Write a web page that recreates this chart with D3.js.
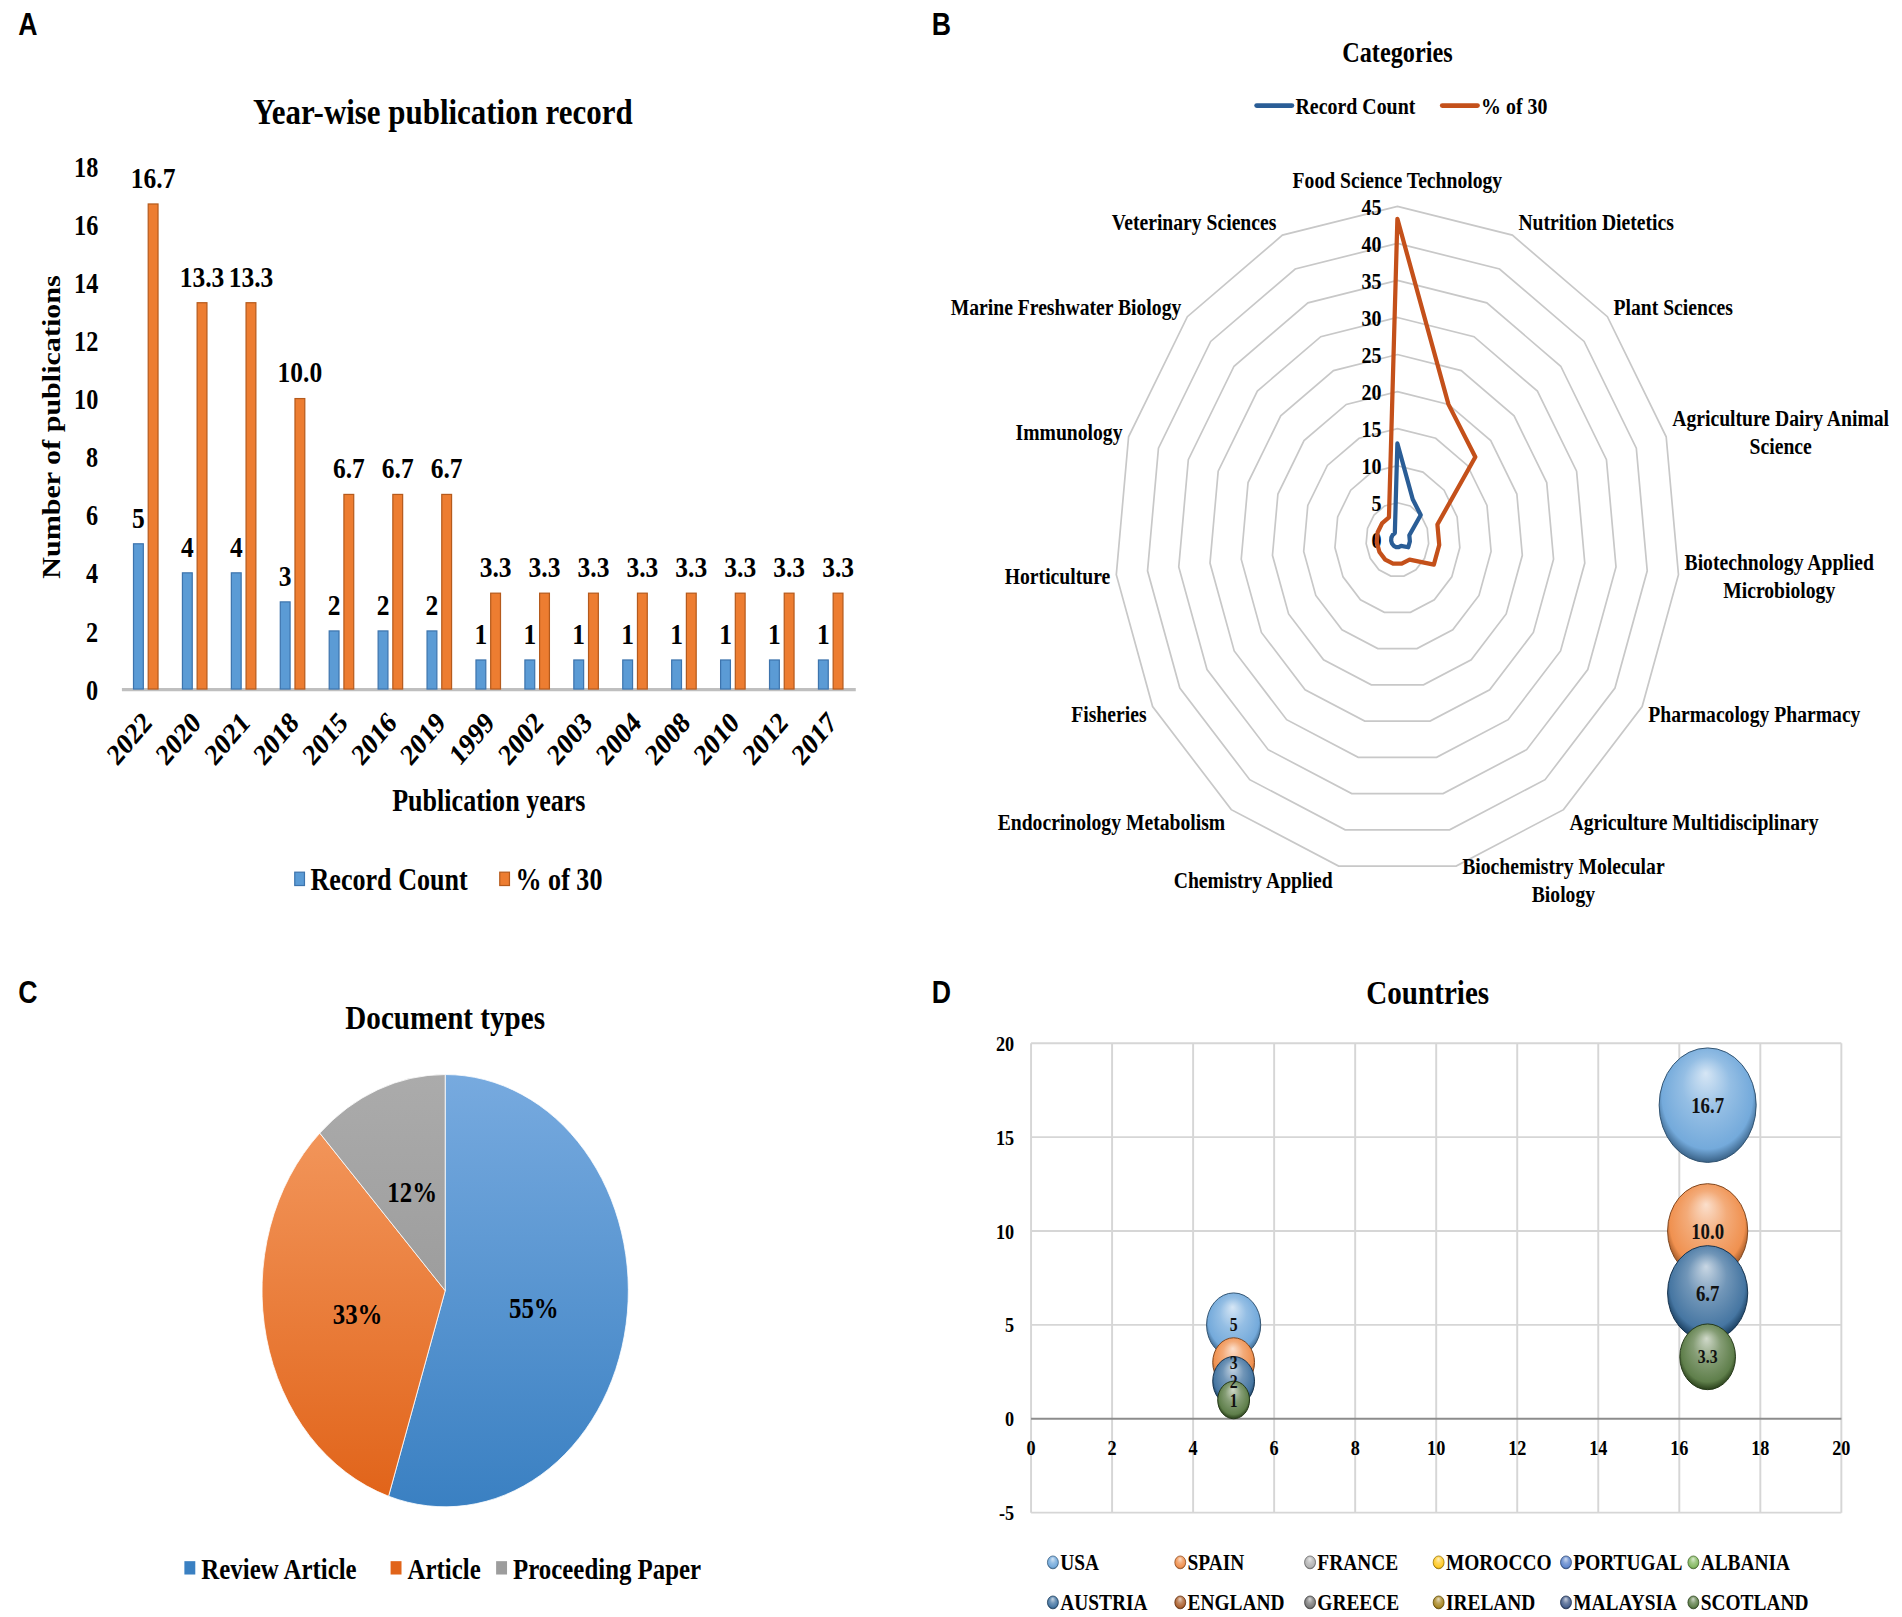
<!DOCTYPE html>
<meta charset="utf-8">
<style>
body { margin: 0; background: #fff; }
</style>
<body>
<script src="https://cdn.jsdelivr.net/npm/d3@7"></script>
<script>

// ---- data ----
var years = ["2022","2020","2021","2018","2015","2016","2019","1999","2002","2003","2004","2008","2010","2012","2017"];
var recordCount = [5,4,4,3,2,2,2,1,1,1,1,1,1,1,1];
var pctOf30 = [16.7,13.3,13.3,10.0,6.7,6.7,6.7,3.3,3.3,3.3,3.3,3.3,3.3,3.3,3.3];
var yearTicks = [0,2,4,6,8,10,12,14,16,18];

var categories = ["Food Science Technology","Nutrition Dietetics","Plant Sciences",
  "Agriculture Dairy Animal Science","Biotechnology Applied Microbiology","Pharmacology Pharmacy",
  "Agriculture Multidisciplinary","Biochemistry Molecular Biology","Chemistry Applied",
  "Endocrinology Metabolism","Fisheries","Horticulture","Immunology",
  "Marine Freshwater Biology","Veterinary Sciences"];
var catCount = [13,6,5,2,2,2,1,1,1,1,1,1,1,1,1];
var catPct = [43.3,20.0,16.7,6.7,6.7,6.7,3.3,3.3,3.3,3.3,3.3,3.3,3.3,3.3,3.3];
var radarTicks = [0,5,10,15,20,25,30,35,40,45];

var docTypes = ["Review Article","Article","Proceeding Paper"];
var docShare = [55,33,12];

var countries = ["USA","SPAIN","FRANCE","MOROCCO","PORTUGAL","ALBANIA",
  "AUSTRIA","ENGLAND","GREECE","IRELAND","MALAYSIA","SCOTLAND"];
var countryColors = ["#5b9bd5","#ed7d31","#a5a5a5","#ffc000","#4472c4","#70ad47",
  "#255e91","#9e480e","#636363","#997300","#264478","#43682b"];
var bubbleSeries = ["USA","SPAIN","AUSTRIA","SCOTLAND","USA","SPAIN","AUSTRIA","SCOTLAND"];
var bubbleX = [5,5,5,5,16.7,16.7,16.7,16.7];
var bubbleY = [5,3,2,1,16.7,10.0,6.7,3.3];
var bubbleSize = [5.2,3.1,3.1,1.8,16.7,11.4,11.4,5.5];
var bubbleLabels = ["5","3","2","1","16.7","10.0","6.7","3.3"];
var xTicksD = [0,2,4,6,8,10,12,14,16,18,20];
var yTicksD = [-5,0,5,10,15,20];

// ---- page ----
var K = 1.18;   // the figure is stretched vertically
var SERIF = "'Liberation Serif','Times New Roman',serif";
var SANS = "'Liberation Sans',Arial,sans-serif";

var svg = d3.select("body").append("svg")
    .attr("width", 1902)
    .attr("height", 1617)
    .attr("viewBox", "0 0 1568 1333");

var defs = svg.append("defs");

function txt(g, x, y, s, size, o) {
  o = o || {};
  return g.append("text")
      .attr("transform", "translate(" + x + "," + y + ") scale(1," + K + ")" + (o.rot ? " rotate(" + o.rot + ")" : ""))
      .attr("text-anchor", o.anchor || "middle")
      .attr("dy", o.dy || "0.35em")
      .attr("font-family", o.family || SERIF)
      .attr("font-weight", o.weight || "bold")
      .attr("font-size", size)
      .attr("fill", o.fill || "#000")
      .text(s);
}

// panel letters
txt(svg, 23, 20, "A", 22, {family: SANS});
txt(svg, 776, 20, "B", 22, {family: SANS});
txt(svg, 23, 818, "C", 22, {family: SANS});
txt(svg, 776, 818, "D", 22, {family: SANS});

// ================= A : bars =================
var gA = svg.append("g");
txt(gA, 365, 92, "Year-wise publication record", 25.5);

var x = d3.scaleBand().domain(years).range([100, 705]);
var xs = d3.scaleBand().domain(["count","pct"]).range([0, x.bandwidth()])
    .paddingInner(1/3).paddingOuter(0.83);
var y = d3.scaleLinear().domain([0, 18]).range([568, 137]);

var yAx = gA.append("g")
    .attr("transform", "translate(81,0)")
    .call(d3.axisLeft(y).tickValues(yearTicks).tickSize(0).tickPadding(0));
yAx.select(".domain").remove();
yAx.selectAll("text")
    .attr("x", null).attr("dy", "0.35em")
    .attr("transform", "scale(1," + K + ")")
    .attr("font-family", SERIF).attr("font-weight", "bold").attr("font-size", 20).attr("fill", "#000");

var xAx = gA.append("g")
    .attr("transform", "translate(0,568)")
    .call(d3.axisBottom(x).tickSize(0));
xAx.select(".domain").attr("stroke", "#bfbfbf").attr("stroke-width", 2.5);
xAx.selectAll("text")
    .attr("y", null).attr("dy", "0.35em")
    .attr("transform", "translate(1,23) scale(1," + K + ") rotate(-45)")
    .attr("text-anchor", "end")
    .attr("font-family", SERIF).attr("font-weight", "bold").attr("font-size", 21).attr("fill", "#000");

var rows = years.map(function(yr, i) { return {year: yr, count: recordCount[i], pct: pctOf30[i]}; });

gA.selectAll(".bc").data(rows).enter().append("rect")
    .attr("x", function(d) { return x(d.year) + xs("count"); })
    .attr("y", function(d) { return y(d.count); })
    .attr("width", xs.bandwidth())
    .attr("height", function(d) { return y(0) - y(d.count); })
    .attr("fill", "#5b9bd5").attr("stroke", "#3d74ad").attr("stroke-width", 1);
gA.selectAll(".bp").data(rows).enter().append("rect")
    .attr("x", function(d) { return x(d.year) + xs("pct"); })
    .attr("y", function(d) { return y(d.pct); })
    .attr("width", xs.bandwidth())
    .attr("height", function(d) { return y(0) - y(d.pct); })
    .attr("fill", "#ed7d31").attr("stroke", "#b55a1c").attr("stroke-width", 1);

rows.forEach(function(d) {
  txt(gA, x(d.year) + xs("count") + xs.bandwidth() / 2, y(d.count) - 22, d3.format("d")(d.count), 21);
  txt(gA, x(d.year) + xs("pct") + xs.bandwidth() / 2, y(d.pct) - 22, d3.format(".1f")(d.pct), 21);
});

txt(gA, 403, 660, "Publication years", 21.5);
txt(gA, 42, 352, "Number of publications", 21, {rot: -90});

gA.append("rect").attr("x", 243).attr("y", 719).attr("width", 8).attr("height", 11).attr("fill", "#5b9bd5").attr("stroke", "#3d74ad");
txt(gA, 256, 725, "Record Count", 21.5, {anchor: "start"});
gA.append("rect").attr("x", 412).attr("y", 719).attr("width", 8).attr("height", 11).attr("fill", "#ed7d31").attr("stroke", "#b55a1c");
txt(gA, 425, 725, "% of 30", 21.5, {anchor: "start"});

// ================= B : radar =================
var gB = svg.append("g");
txt(gB, 1152, 43, "Categories", 20);
gB.append("line").attr("x1", 1036).attr("x2", 1065).attr("y1", 87).attr("y2", 87)
    .attr("stroke", "#2a5d96").attr("stroke-width", 4).attr("stroke-linecap", "round");
txt(gB, 1068, 87, "Record Count", 16.4, {anchor: "start"});
gB.append("line").attr("x1", 1189).attr("x2", 1218).attr("y1", 87).attr("y2", 87)
    .attr("stroke", "#c4501a").attr("stroke-width", 4).attr("stroke-linecap", "round");
txt(gB, 1221, 87, "% of 30", 16.4, {anchor: "start"});

var cx = 1152, cy = 445;
var r = d3.scaleLinear().domain([0, 45]).range([0, 233]);
var ang = d3.scaleLinear().domain([0, categories.length]).range([0, 2 * Math.PI]);
function pt(i, v) {
  return [cx + r(v) * Math.sin(ang(i)), cy - r(v) * Math.cos(ang(i)) * K];
}
var radarLine = d3.line().curve(d3.curveLinearClosed);

radarTicks.slice(1).forEach(function(v) {
  gB.append("path")
      .attr("d", radarLine(categories.map(function(c, i) { return pt(i, v); })))
      .attr("fill", "none").attr("stroke", "#c8c8c8").attr("stroke-width", 1.4);
});
radarTicks.forEach(function(v) {
  txt(gB, cx - 13, cy - r(v) * K, v, 16.5, {anchor: "end"});
});

gB.append("path")
    .attr("d", radarLine(catPct.map(function(v, i) { return pt(i, v); })))
    .attr("fill", "none").attr("stroke", "#c4501a").attr("stroke-width", 3.5).attr("stroke-linejoin", "round");
gB.append("path")
    .attr("d", radarLine(catCount.map(function(v, i) { return pt(i, v); })))
    .attr("fill", "none").attr("stroke", "#2a5d96").attr("stroke-width", 3.5).attr("stroke-linejoin", "round");

categories.forEach(function(name, i) {
  var p = pt(i, 45), a = ang(i);
  var words = name.split(" ");
  var lines = name.length >= 30 ? [words.slice(0, -1).join(" "), words[words.length - 1]] : [name];
  if (i === 0) { txt(gB, p[0], p[1] - 22, name, 16.2); return; }
  var yc = p[1] - 12 * Math.cos(a);
  var right = Math.sin(a) > 0;
  // measure the widest line, then centre each line in that block
  var probe = txt(gB, 0, 0, lines[0], 16.2);
  var w = probe.node().getComputedTextLength();
  probe.remove();
  var mid = right ? p[0] + 5 + w / 2 : p[0] - 5 - w / 2;
  lines.forEach(function(l, j) {
    txt(gB, mid, yc + (j - (lines.length - 1) / 2) * 23, l, 16.2);
  });
});

// ================= C : pie =================
var gC = svg.append("g");
txt(gC, 367, 838, "Document types", 24);

var pieCols = [["#77aadf","#3a80c2"],["#f2955a","#e1641a"],["#ababab","#9d9d9d"]];
pieCols.forEach(function(c, i) {
  var lg = defs.append("linearGradient").attr("id", "pg" + i).attr("x1", 0).attr("x2", 0).attr("y1", 0).attr("y2", 1);
  lg.append("stop").attr("offset", "0%").attr("stop-color", c[0]);
  lg.append("stop").attr("offset", "100%").attr("stop-color", c[1]);
});

var pie = d3.pie().sort(null).value(function(d) { return d; });
var R = 151;
var arc = d3.arc().innerRadius(0).outerRadius(R);
var labelArc = d3.arc().innerRadius(R * 0.49).outerRadius(R * 0.49);
var pg = gC.append("g").attr("transform", "translate(367,1064) scale(1," + K + ")");
var slices = pie(docShare);
pg.selectAll("path").data(slices).enter().append("path")
    .attr("d", arc)
    .attr("fill", function(d, i) { return "url(#pg" + i + ")"; })
    .attr("stroke", "#fff").attr("stroke-width", 0.6);
pg.selectAll("text").data(slices).enter().append("text")
    .attr("transform", function(d) { return "translate(" + labelArc.centroid(d) + ")"; })
    .attr("text-anchor", "middle").attr("dy", "0.35em")
    .attr("font-family", SERIF).attr("font-weight", "bold").attr("font-size", 20.5)
    .text(function(d) { return d.data + "%"; });

var legC = [152, 322, 409];
docTypes.forEach(function(t, i) {
  gC.append("rect").attr("x", legC[i]).attr("y", 1287).attr("width", 9).attr("height", 11)
      .attr("fill", pieCols[i][1]);
  txt(gC, legC[i] + 14, 1293, t, 20.5, {anchor: "start"});
});

// ================= D : bubbles =================
var gD = svg.append("g");
txt(gD, 1177, 818, "Countries", 24);

var xd = d3.scaleLinear().domain([0, 20]).range([850, 1518]);
var yd = d3.scaleLinear().domain([-5, 20]).range([1247, 860]);
var rs = d3.scaleSqrt().domain([0, 16.7]).range([0, 40]);

gD.selectAll(".vg").data(xTicksD).enter().append("line")
    .attr("x1", xd).attr("x2", xd).attr("y1", yd(20)).attr("y2", yd(-5))
    .attr("stroke", "#d6d6d6").attr("stroke-width", 1.6);
gD.selectAll(".hg").data(yTicksD).enter().append("line")
    .attr("x1", xd(0)).attr("x2", xd(20)).attr("y1", yd).attr("y2", yd)
    .attr("stroke", function(d) { return d === 0 ? "#8c8c8c" : "#d6d6d6"; })
    .attr("stroke-width", 1.6);
yTicksD.forEach(function(v) { txt(gD, 836, yd(v), v, 15, {anchor: "end"}); });
xTicksD.forEach(function(v) { txt(gD, xd(v), 1193, v, 15); });

countries.forEach(function(c, i) {
  var base = countryColors[i];
  var g = defs.append("radialGradient").attr("id", "bg" + i)
      .attr("cx", "50%").attr("cy", "45%").attr("r", "55%").attr("fx", "48%").attr("fy", "22%");
  g.append("stop").attr("offset", "0%").attr("stop-color", d3.interpolateRgb(base, "#fff")(0.75));
  g.append("stop").attr("offset", "45%").attr("stop-color", d3.interpolateRgb(base, "#fff")(0.35));
  g.append("stop").attr("offset", "85%").attr("stop-color", d3.interpolateRgb(base, "#fff")(0.15));
  g.append("stop").attr("offset", "100%").attr("stop-color", d3.color(base).darker(1.3));
});

var bubbles = bubbleX.map(function(v, i) {
  return {x: v, y: bubbleY[i], s: bubbleSize[i], c: countries.indexOf(bubbleSeries[i]), label: bubbleLabels[i]};
});
gD.selectAll(".bub").data(bubbles).enter().append("ellipse")
    .attr("cx", function(b) { return xd(b.x); })
    .attr("cy", function(b) { return yd(b.y); })
    .attr("rx", function(b) { return rs(b.s); })
    .attr("ry", function(b) { return rs(b.s) * K; })
    .attr("fill", function(b) { return "url(#bg" + b.c + ")"; })
    .attr("stroke", function(b) { return d3.color(countryColors[b.c]).darker(1.8); })
    .attr("stroke-width", 0.8);
// labels on top of all bubbles; the small stacked ones get a smaller size
bubbles.forEach(function(b) {
  txt(gD, xd(b.x), yd(b.y), b.label, rs(b.s) < 30 ? 13 : 15.5, {fill: "#111"});
});

var legX = [868, 973, 1080, 1186, 1291, 1396];
countries.forEach(function(c, i) {
  var lx = legX[i % 6], ly = i < 6 ? 1288 : 1321;
  gD.append("ellipse").attr("cx", lx).attr("cy", ly).attr("rx", 4.5).attr("ry", 4.5 * K)
      .attr("fill", "url(#bg" + i + ")").attr("stroke", d3.color(countryColors[i]).darker(1.5)).attr("stroke-width", 0.6);
  txt(gD, lx + 6, ly, c, 16, {anchor: "start"});
});

</script>
